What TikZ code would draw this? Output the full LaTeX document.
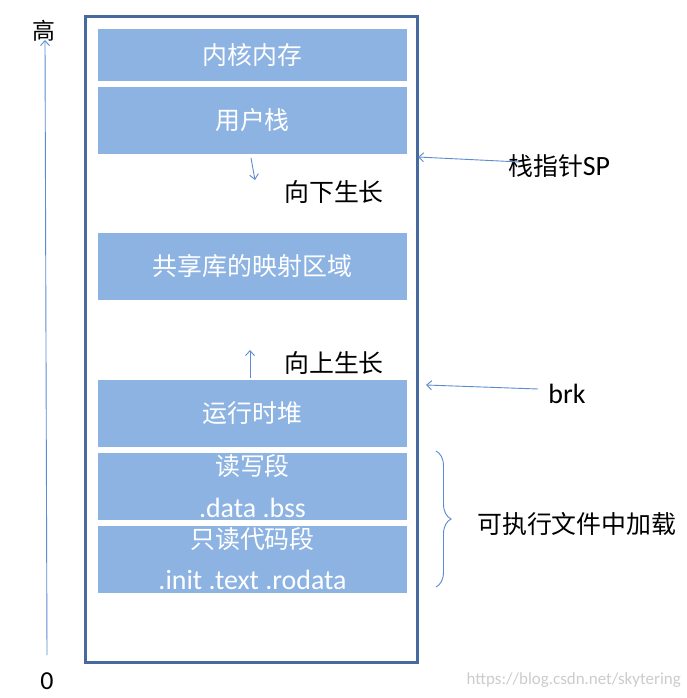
\documentclass[tikz,border=0pt]{standalone}
\usepackage{fontspec}
\setmainfont{Carlito}
\newfontfamily\cjk{Noto Sans CJK SC}
\usetikzlibrary{arrows.meta,decorations.pathreplacing}
\definecolor{segfill}{HTML}{8DB3E2}
\definecolor{frame}{HTML}{46699F}
\definecolor{arr}{HTML}{5B8BD0}
\newcommand{\cj}{\cjk\fontsize{25}{28}\selectfont}
\tikzset{
  seg/.style={fill=segfill, draw=white, line width=1.5bp, minimum width=311bp, inner sep=0pt, text=white, font=\fontsize{28}{30}\selectfont},
  segtxt/.style={text=white, inner sep=0pt, font=\fontsize{28}{30}\selectfont},
  lbl/.style={text=black, inner sep=0pt, font=\fontsize{28}{30}\selectfont},
  ptr/.style={draw=arr, line width=0.9bp, -{Straight Barb[length=5bp,width=9bp]}}
}
\begin{document}
\begin{tikzpicture}[x=1bp,y=-1bp]
\useasboundingbox (0,0) rectangle (687,698);
\fill[white] (0,0) rectangle (687,698);
% outer frame
\node[draw=frame, line width=3bp, minimum width=331bp, minimum height=645bp, inner sep=0pt] (mem) at (251.5,339.5) {};
% segments
\node[seg, minimum height=54bp] (kern) at (252.5,55) {\cj 内核内存};
\node[seg, minimum height=69bp] (ustack) at (252.5,120.5) {\cj 用户栈};
\node[seg, minimum height=69bp] (shlib) at (252.5,266.5) {\cj 共享库的映射区域};
\node[seg, minimum height=69bp] (heap) at (252.5,413.5) {\cj 运行时堆};
\node[seg, minimum height=69bp] (rw) at (252.5,486.5) {};
\node[seg, minimum height=69bp] (ro) at (252.5,559.5) {};
\node[segtxt] (rwa) at (252.5,466) {\cj 读写段};
\node[segtxt] (rwb) at (252.5,508) {.data .bss};
\node[segtxt] (roa) at (252.5,539) {\cj 只读代码段};
\node[segtxt] (rob) at (252.5,580) {.init .text .rodata};
% growth arrows
\coordinate (dn0) at (251,158);
\coordinate (dn1) at (255,180);
\draw[ptr] (dn0) -- (dn1);
\node[lbl] (down) at (334,192) {\cj 向下生长};
\coordinate (up0) at (250,378);
\coordinate (up1) at (250,350);
\draw[ptr] (up0) -- (up1);
\node[lbl] (up) at (334,363) {\cj 向上生长};
% pointers
\node[lbl, anchor=west] (sp) at (508,166) {\cj 栈指针\fontspec{Carlito}\fontsize{28}{30}\selectfont SP};
\coordinate (sp0) at (520,162);
\coordinate (sp1) at (418,157);
\draw[ptr] (sp0) -- (sp1);
\node[lbl] (brk) at (567,394) {brk};
\coordinate (brk0) at (538,389);
\coordinate (brk1) at (426,385);
\draw[ptr] (brk0) -- (brk1);
% brace
\coordinate (b0) at (436,451);
\coordinate (b1) at (436,587);
\draw[draw=arr, line width=0.9bp, decorate, decoration={brace, amplitude=15bp, mirror}] (b1) -- (b0);
\node[lbl, anchor=west] (exe) at (477,524) {\cj 可执行文件中加载};
% axis
\coordinate (ax0) at (47,655);
\coordinate (ax1) at (45,40);
\draw[ptr] (ax0) -- (ax1);
\node[lbl] (hi) at (44,31) {\cjk\fontsize{23}{25}\selectfont 高};
\node[lbl, font=\fontsize{26}{28}\selectfont] (lo) at (47,681) {0};
% watermark
\node[text=black!20, inner sep=0pt, anchor=east, font=\fontsize{17}{19}\selectfont] (wm) at (681,680) {https://blog.csdn.net/skytering};
\end{tikzpicture}
\end{document}
